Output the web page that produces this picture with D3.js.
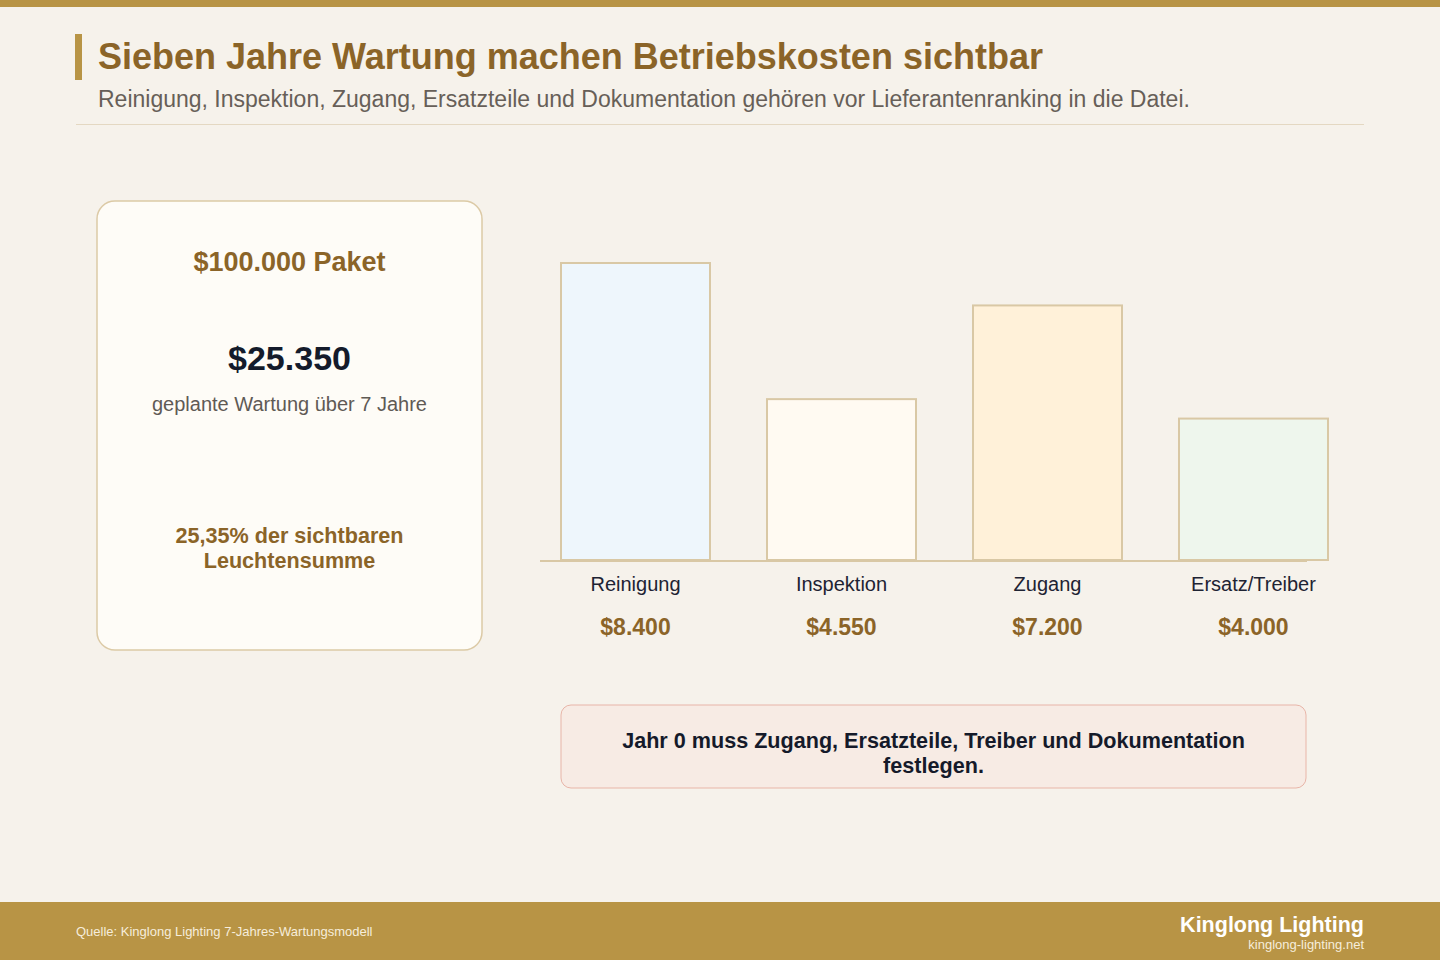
<!DOCTYPE html>
<html><head><meta charset="utf-8">
<script src="https://cdn.jsdelivr.net/npm/d3@7"></script>
<style>html,body{margin:0;padding:0;background:#f6f2eb;}svg{display:block;font-family:"Liberation Sans",Arial,sans-serif;}</style>
</head><body>
<svg id="chart" width="1440" height="960"></svg>
<script>
const categories = ["Reinigung", "Inspektion", "Zugang", "Ersatz/Treiber"];
const values = [8400, 4550, 7200, 4000];
const valueLabels = ["$8.400", "$4.550", "$7.200", "$4.000"];
const barFills = ["#eef6fc", "#fffaf2", "#fff1d9", "#eef6ed"];
const titleText = "Sieben Jahre Wartung machen Betriebskosten sichtbar";
const subtitleText = "Reinigung, Inspektion, Zugang, Ersatzteile und Dokumentation gehören vor Lieferantenranking in die Datei.";
const cardLines = ["$100.000 Paket", "$25.350", "geplante Wartung über 7 Jahre", "25,35% der sichtbaren", "Leuchtensumme"];
const calloutLines = ["Jahr 0 muss Zugang, Ersatzteile, Treiber und Dokumentation", "festlegen."];
const sourceText = "Quelle: Kinglong Lighting 7-Jahres-Wartungsmodell";
const brandText = "Kinglong Lighting";
const brandUrl = "kinglong-lighting.net";

const svg = d3.select("#chart");
const gold = "#b89445", brown = "#8b6428", bg = "#f6f2eb";

svg.append("rect").attr("width", 1440).attr("height", 960).attr("fill", bg);
svg.append("rect").attr("width", 1440).attr("height", 7).attr("fill", gold);

// Title
svg.append("rect").attr("x", 75).attr("y", 34).attr("width", 7).attr("height", 46).attr("fill", gold);
svg.append("text").attr("x", 98).attr("y", 59).attr("dominant-baseline", "middle")
  .attr("font-size", 36).attr("font-weight", "bold").attr("fill", brown).text(titleText);
svg.append("text").attr("x", 98).attr("y", 101).attr("dominant-baseline", "middle")
  .attr("font-size", 23).attr("fill", "#675f58").text(subtitleText);
svg.append("line").attr("x1", 76).attr("x2", 1364).attr("y1", 124.5).attr("y2", 124.5)
  .attr("stroke", "#e4d8c2").attr("stroke-width", 1);

// Card
svg.append("rect").attr("x", 97).attr("y", 201).attr("width", 385).attr("height", 449).attr("rx", 18)
  .attr("fill", "#fefcf7").attr("stroke", "#dccaa6").attr("stroke-width", 1.5);
const cx = 289.5;
svg.append("text").attr("x", cx).attr("y", 264).attr("text-anchor", "middle").attr("dominant-baseline", "middle")
  .attr("font-size", 27).attr("font-weight", "bold").attr("fill", brown).text(cardLines[0]);
svg.append("text").attr("x", cx).attr("y", 361).attr("text-anchor", "middle").attr("dominant-baseline", "middle")
  .attr("font-size", 34).attr("font-weight", "bold").attr("fill", "#141b2b").text(cardLines[1]);
svg.append("text").attr("x", cx).attr("y", 406).attr("text-anchor", "middle").attr("dominant-baseline", "middle")
  .attr("font-size", 20).attr("fill", "#5f5a55").text(cardLines[2]);
svg.append("text").attr("x", cx).attr("y", 537).attr("text-anchor", "middle").attr("dominant-baseline", "middle")
  .attr("font-size", 21.6).attr("font-weight", "bold").attr("fill", brown).text(cardLines[3]);
svg.append("text").attr("x", cx).attr("y", 562).attr("text-anchor", "middle").attr("dominant-baseline", "middle")
  .attr("font-size", 21.6).attr("font-weight", "bold").attr("fill", brown).text(cardLines[4]);

// Bars
const x = d3.scaleBand().domain(categories).range([540, 1349]).paddingInner(0.2767).paddingOuter(0.102);
const y = d3.scaleLinear().domain([0, 8400]).range([560, 263]);
const base = y(0);

svg.append("g").selectAll("rect").data(categories).join("rect")
  .attr("x", d => x(d)).attr("y", (d, i) => y(values[i]))
  .attr("width", x.bandwidth()).attr("height", (d, i) => base - y(values[i]))
  .attr("fill", (d, i) => barFills[i]).attr("stroke", "#d9c8a5").attr("stroke-width", 2);

svg.append("line").attr("x1", 540).attr("x2", 1307).attr("y1", 561).attr("y2", 561)
  .attr("stroke", "#d9c8a5").attr("stroke-width", 2);

svg.append("g").selectAll("text").data(categories).join("text")
  .attr("x", d => x(d) + x.bandwidth() / 2).attr("y", 586)
  .attr("text-anchor", "middle").attr("dominant-baseline", "middle")
  .attr("font-size", 20).attr("fill", "#1e2333").text(d => d);

svg.append("g").selectAll("text").data(categories).join("text")
  .attr("x", d => x(d) + x.bandwidth() / 2).attr("y", 629)
  .attr("text-anchor", "middle").attr("dominant-baseline", "middle")
  .attr("font-size", 23).attr("font-weight", "bold").attr("fill", brown).text((d, i) => valueLabels[i]);

// Callout
svg.append("rect").attr("x", 561).attr("y", 705).attr("width", 745).attr("height", 83).attr("rx", 10)
  .attr("fill", "#f7ebe4").attr("stroke", "#e8b5a8").attr("stroke-width", 1);
calloutLines.forEach((t, i) => {
  svg.append("text").attr("x", 933.5).attr("y", 742 + i * 25).attr("text-anchor", "middle").attr("dominant-baseline", "middle")
    .attr("font-size", 21.6).attr("font-weight", "bold").attr("fill", "#151a2a").text(t);
});

// Footer
svg.append("rect").attr("y", 902).attr("width", 1440).attr("height", 58).attr("fill", gold);
svg.append("text").attr("x", 76).attr("y", 933).attr("dominant-baseline", "middle")
  .attr("font-size", 13).attr("fill", "#f6eddb").text(sourceText);
svg.append("text").attr("x", 1364).attr("y", 926).attr("text-anchor", "end").attr("dominant-baseline", "middle")
  .attr("font-size", 21.5).attr("font-weight", "bold").attr("fill", "#ffffff").text(brandText);
svg.append("text").attr("x", 1364).attr("y", 946).attr("text-anchor", "end").attr("dominant-baseline", "middle")
  .attr("font-size", 13).attr("fill", "#f6eddb").text(brandUrl);
</script>
</body></html>
